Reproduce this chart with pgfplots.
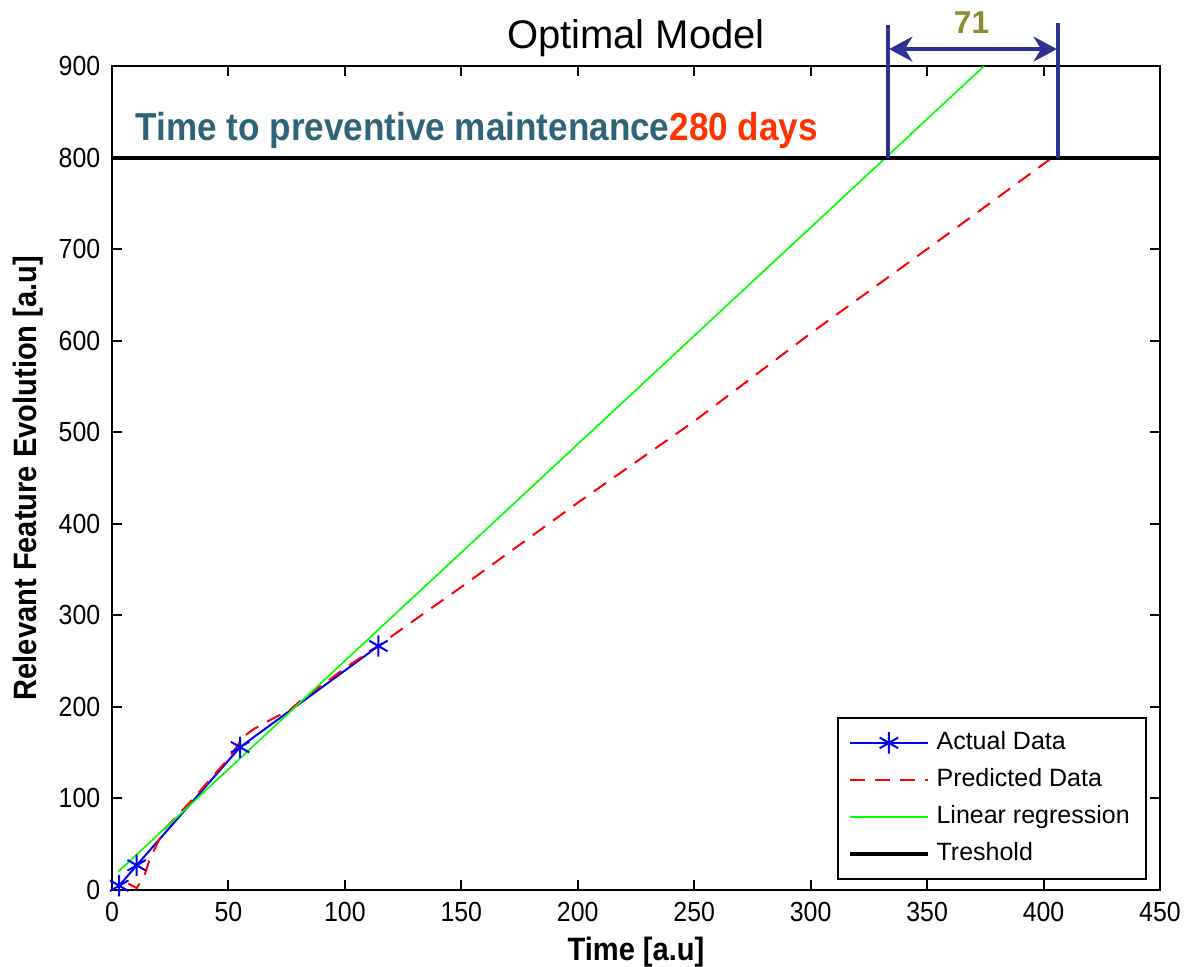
\documentclass[border=0pt]{standalone}
\usepackage{fontspec}
\setmainfont{Liberation Sans}
\newfontfamily\narrowsans[FakeStretch=0.9]{Liberation Sans}
\usepackage{pgfplots}
\pgfplotsset{compat=1.18}
\usetikzlibrary{arrows.meta}
\definecolor{annblue}{RGB}{46,49,146}
\definecolor{annteal}{RGB}{47,100,120}
\definecolor{annred}{RGB}{255,51,0}
\definecolor{annolive}{RGB}{140,140,50}
\begin{document}
\begin{tikzpicture}
\path[use as bounding box] (-33.6pt,-22.8pt) rectangle (322.8pt,267pt);
\begin{axis}[
  at={(0pt,0pt)}, anchor=south west,
  scale only axis, width=314.4pt, height=247.2pt,
  xmin=0, xmax=450, ymin=0, ymax=900,
  xtick={0,50,...,450}, ytick={0,100,...,900},
  tick align=inside, tick pos=both, major tick length=3pt,
  axis line style={line width=0.6pt},
  every tick/.style={line width=0.6pt, black},
  tick label style={font=\narrowsans\fontsize{8.3}{10}\selectfont},
  /pgf/number format/assume math mode=true,
  /pgf/number format/1000 sep={},
  title={Optimal Model},
  every axis title shift=0pt,
  title style={font=\fontsize{12}{14}\selectfont, at={(axis description cs:0.5,1)}, anchor=base, yshift=5.4pt},
  xlabel={Time [a.u]}, ylabel={Relevant Feature Evolution [a.u]},
  every axis x label/.style={at={(axis description cs:0.5,0)}, anchor=base, yshift=-21pt,
    font=\narrowsans\bfseries\fontsize{9.7}{11}\selectfont},
  every axis y label/.style={at={(axis description cs:-0.0802,0.5)}, rotate=90, anchor=center,
    font=\narrowsans\bfseries\fontsize{9.7}{11}\selectfont},
  legend style={at={(0.988,0.012)}, anchor=south east, draw=black, line width=0.6pt,
    font=\fontsize{7.5}{9}\selectfont, inner xsep=3pt, inner ysep=2pt, row sep=0.2pt},
  legend cell align=left,
  legend image code/.code={\draw[mark repeat=2,mark phase=2,#1] plot coordinates {(0pt,0pt) (11.7pt,0pt) (23.4pt,0pt)};},
  clip=false,
]
\addplot[blue, line width=0.6pt, mark=asterisk, mark size=3.2pt, mark options={solid}]
  coordinates {(3.1,4.7) (10.6,27) (55,156) (114.4,266.5)};
\addlegendentry{Actual Data}
\addplot[red, line width=0.6pt, dash pattern=on 4.5pt off 3pt]
  coordinates {(7,7) (10.6,2) (13,12) (14.2,18) (16,32) (22,65) (35,100) (50.7,145.6) (56.4,167.5)
    (61,176) (70,188.6) (76.4,196.6) (82.1,209.4) (92.2,227.5) (100.8,243.8) (114.4,266.5)
    (120.8,278.5) (150,331) (200,423) (250,512) (300,608) (350,700) (407,806)};
\addlegendentry{Predicted Data}
\addplot[green, line width=0.5pt] coordinates {(2.7,20) (374.5,900)};
\addlegendentry{Linear regression}
\addplot[black, line width=1.2pt] coordinates {(0,800) (450,800)};
\addlegendentry{Treshold}
\draw[annblue, line width=1pt] (axis cs:333.2,800) -- (axis cs:333.2,945);
\draw[annblue, line width=1pt] (axis cs:406.2,800) -- (axis cs:406.2,947);
\draw[annblue, line width=1pt, {Stealth[length=7pt,width=7.5pt]}-{Stealth[length=7pt,width=7.5pt]}]
  (axis cs:333.7,918.5) -- (axis cs:405.7,918.5);
\node[anchor=base, text=annolive, font=\bfseries\fontsize{9.5}{11}\selectfont] at (axis cs:369.1,936) {71};
\node[anchor=base west, inner sep=0pt, font=\narrowsans\bfseries\fontsize{11.7}{14}\selectfont]
  at (axis cs:9.9,819) {\textcolor{annteal}{Time to preventive maintenance}\textcolor{annred}{280 days}};
\end{axis}
\end{tikzpicture}
\end{document}
